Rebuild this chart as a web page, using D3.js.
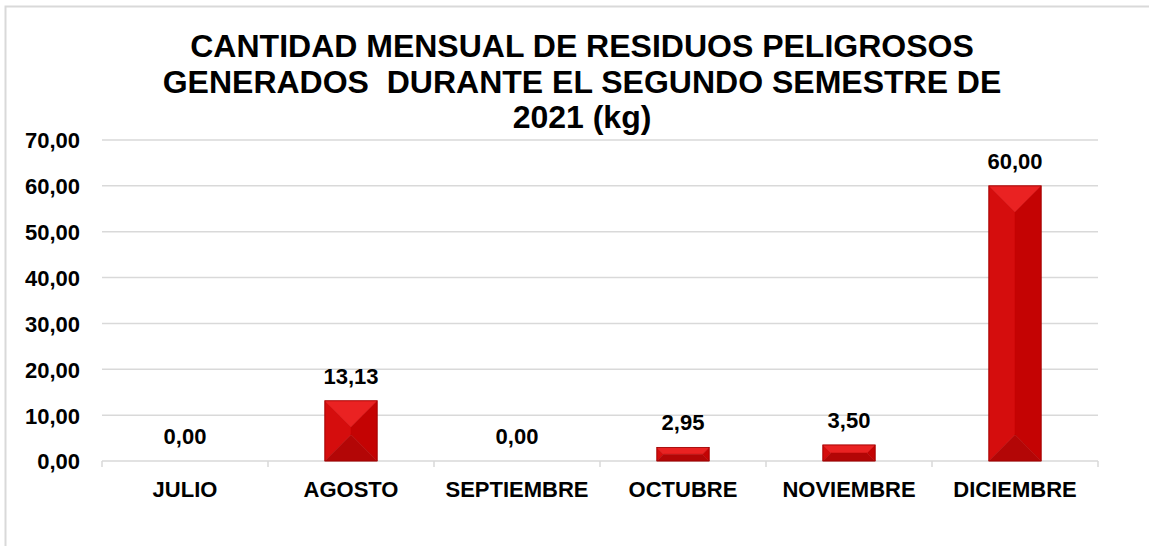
<!DOCTYPE html>
<html>
<head>
<meta charset="utf-8">
<script src="https://cdn.jsdelivr.net/npm/d3@7/dist/d3.min.js"></script>
<style>
  body { margin: 0; background: #fff; }
  text { font-family: "Liberation Sans", Arial, sans-serif; font-weight: bold; fill: #000; }
</style>
</head>
<body>
<div id="chart"></div>
<script>
// datos del grafico
var meses = ["JULIO", "AGOSTO", "SEPTIEMBRE", "OCTUBRE", "NOVIEMBRE", "DICIEMBRE"];
var kilos = [0, 13.13, 0, 2.95, 3.5, 60];
var yTicks = [0, 10, 20, 30, 40, 50, 60, 70];
var titulo = [
  "CANTIDAD MENSUAL DE RESIDUOS PELIGROSOS",
  "GENERADOS  DURANTE EL SEGUNDO SEMESTRE DE",
  "2021 (kg)"
];

var W = 1149, H = 546;
var margin = {top: 140, right: 51, bottom: 85, left: 102};

var svg = d3.select("#chart").append("svg")
  .attr("width", W)
  .attr("height", H);

// borde del area del grafico
svg.append("rect")
  .attr("x", 5.5).attr("y", 6.5)
  .attr("width", W + 20).attr("height", H + 20)
  .attr("fill", "none")
  .attr("stroke", "#d9d9d9")
  .attr("stroke-width", 2);

// titulo
svg.append("g").selectAll("text")
  .data(titulo)
  .join("text")
  .attr("x", 582)
  .attr("y", function(d, i){ return 57 + i * 35.5; })
  .attr("text-anchor", "middle")
  .style("font-size", "32px")
  .style("white-space", "pre")
  .text(function(d){ return d; });

var x = d3.scaleBand()
  .domain(meses)
  .range([margin.left, W - margin.right])
  .paddingInner(0)
  .paddingOuter(0);

var y = d3.scaleLinear()
  .domain([0, 70])
  .range([H - margin.bottom, margin.top]);

var loc = d3.formatLocale({decimal: ",", thousands: ".", grouping: [3], currency: ["", ""]});
var fmt = loc.format(".2f");

// lineas de cuadricula
svg.append("g").selectAll("line")
  .data(yTicks.slice(1))
  .join("line")
  .attr("x1", margin.left).attr("x2", W - margin.right)
  .attr("y1", function(d){ return y(d); })
  .attr("y2", function(d){ return y(d); })
  .attr("stroke", "#d9d9d9")
  .attr("stroke-width", 1.5);

// eje Y
var yAxis = svg.append("g")
  .attr("transform", "translate(" + margin.left + ",0)")
  .call(d3.axisLeft(y).tickValues(yTicks).tickFormat(fmt).tickSize(0).tickPadding(22));
yAxis.select(".domain").remove();
yAxis.selectAll("text").style("font-size", "22px").attr("dy", "0.36em");

// eje X
var xAxis = svg.append("g")
  .attr("transform", "translate(0," + y(0) + ")");
xAxis.append("line")
  .attr("x1", margin.left).attr("x2", W - margin.right)
  .attr("stroke", "#d9d9d9").attr("stroke-width", 1.5);
var bordes = meses.map(function(m){ return x(m); }).concat([W - margin.right]);
xAxis.selectAll(".tk")
  .data(bordes)
  .join("line")
  .attr("class", "tk")
  .attr("x1", function(d){ return d; }).attr("x2", function(d){ return d; })
  .attr("y1", 0).attr("y2", 6)
  .attr("stroke", "#d9d9d9").attr("stroke-width", 1.5);
xAxis.selectAll(".lbl")
  .data(meses)
  .join("text")
  .attr("class", "lbl")
  .attr("x", function(d){ return x(d) + x.bandwidth() / 2; })
  .attr("y", 36)
  .attr("text-anchor", "middle")
  .style("font-size", "22px")
  .text(function(d){ return d; });

// barras con efecto bisel
var barW = x.bandwidth() * 0.315;
var datos = meses.map(function(m, i){ return {mes: m, v: kilos[i]}; });

function facetasBisel(d){
  var x0 = x(d.mes) + (x.bandwidth() - barW) / 2, x1 = x0 + barW;
  var y0 = y(d.v), y1 = y(0);
  var h = y1 - y0, w = barW;
  var cx = (x0 + x1) / 2, cy = (y0 + y1) / 2;
  if (h >= w) {
    var a = [cx, y0 + w / 2], b = [cx, y1 - w / 2];
    return [
      {c: "#ea2222", p: [[x0, y0], [x1, y0], a]},
      {c: "#d50d0d", p: [[x0, y0], a, b, [x0, y1]]},
      {c: "#c40303", p: [[x1, y0], a, b, [x1, y1]]},
      {c: "#b30606", p: [[x0, y1], [x1, y1], b]}
    ];
  } else {
    var l = [x0 + h / 2, cy], r = [x1 - h / 2, cy];
    return [
      {c: "#ea2222", p: [[x0, y0], [x1, y0], r, l]},
      {c: "#d50d0d", p: [[x0, y0], l, [x0, y1]]},
      {c: "#c40303", p: [[x1, y0], r, [x1, y1]]},
      {c: "#b30606", p: [[x0, y1], [x1, y1], r, l]}
    ];
  }
}

var barras = svg.append("g").selectAll("g")
  .data(datos.filter(function(d){ return d.v > 0; }))
  .join("g");

barras.selectAll("polygon")
  .data(facetasBisel)
  .join("polygon")
  .attr("points", function(f){ return f.p.map(function(q){ return q.join(","); }).join(" "); })
  .attr("fill", function(f){ return f.c; })
  .attr("stroke", function(f){ return f.c; })
  .attr("stroke-width", 0.5);

barras.append("rect")
  .attr("x", function(d){ return x(d.mes) + (x.bandwidth() - barW) / 2; })
  .attr("y", function(d){ return y(d.v); })
  .attr("width", barW)
  .attr("height", function(d){ return y(0) - y(d.v); })
  .attr("fill", "none")
  .attr("stroke", "#9a0000")
  .attr("stroke-width", 0.8);

// etiquetas de valor
svg.append("g").selectAll("text")
  .data(datos)
  .join("text")
  .attr("x", function(d){ return x(d.mes) + x.bandwidth() / 2; })
  .attr("y", function(d){ return y(d.v) - 17; })
  .attr("text-anchor", "middle")
  .style("font-size", "22px")
  .text(function(d){ return fmt(d.v); });
</script>
</body>
</html>
